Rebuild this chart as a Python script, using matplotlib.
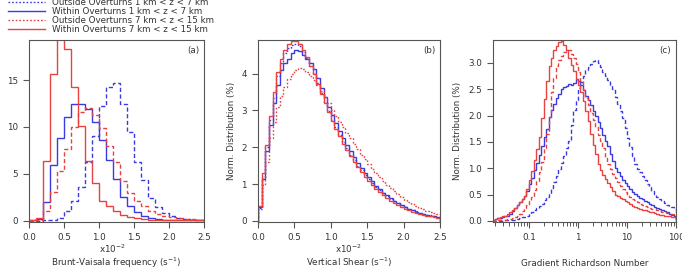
import numpy as np
import matplotlib
matplotlib.use('Agg')
import matplotlib.pyplot as plt
from matplotlib.lines import Line2D
from matplotlib.ticker import FormatStrFormatter, LogLocator, NullFormatter, FixedLocator

plt.rcParams['font.family'] = ['DejaVu Sans']
plt.rcParams['font.size'] = 6.3

# ---------------- data ----------------
# (a) Brunt-Vaisala frequency, bins of 0.1 x10^-2 s^-1 from 0 to 2.5
n_edges = np.linspace(0.0, 2.5, 26)
n_out_low = [0.0, 0.0, 0.05, 0.1, 0.3, 1.0, 2.05, 3.6, 6.3, 9.0, 12.2, 14.3, 14.7,
             12.5, 9.5, 6.3, 4.3, 2.4, 1.4, 0.8, 0.5, 0.3, 0.2, 0.1, 0.1]
n_in_low = [0.02, 0.2, 2.0, 5.9, 8.8, 11.1, 12.4, 12.4, 11.9, 10.5, 8.6, 6.5, 4.4,
            2.5, 1.6, 0.9, 0.5, 0.3, 0.2, 0.1, 0.08, 0.05, 0.03, 0.02, 0.01]
n_out_high = [0.0, 0.1, 1.0, 3.1, 5.3, 7.6, 10.0, 11.6, 12.0, 11.3, 9.9, 8.0, 6.2,
              4.2, 2.9, 2.1, 1.5, 1.0, 0.7, 0.5, 0.35, 0.25, 0.2, 0.15, 0.1]
n_in_high = [0.05, 0.3, 6.4, 15.7, 19.8, 18.3, 14.3, 10.1, 6.4, 4.0, 2.1, 1.5, 1.0,
             0.6, 0.35, 0.25, 0.15, 0.1, 0.08, 0.05, 0.04, 0.03, 0.02, 0.02, 0.01]

# (b) vertical shear, bins of 0.05 x10^-2 s^-1 from 0 to 2.5
s_edges = np.linspace(0.0, 2.5, 51)
s_out_low = [0.35, 1.2, 2.0, 2.75, 3.35, 3.95, 4.3, 4.55, 4.7, 4.78,
             4.8, 4.75, 4.6, 4.42, 4.2, 3.98, 3.74, 3.48, 3.22, 2.98,
             2.75, 2.54, 2.34, 2.15, 1.97, 1.8, 1.65, 1.5, 1.37, 1.25,
             1.13, 1.02, 0.92, 0.83, 0.75, 0.67, 0.6, 0.54, 0.48, 0.43,
             0.38, 0.33, 0.29, 0.26, 0.22, 0.19, 0.17, 0.15, 0.13, 0.11]
s_in_low = [0.38, 1.15, 1.9, 2.6, 3.2, 3.7, 4.1, 4.3, 4.4, 4.55,
            4.65, 4.62, 4.5, 4.4, 4.3, 4.12, 3.88, 3.62, 3.36, 3.1,
            2.87, 2.65, 2.45, 2.25, 2.06, 1.89, 1.73, 1.58, 1.44, 1.31,
            1.18, 1.07, 0.96, 0.86, 0.77, 0.69, 0.62, 0.55, 0.49, 0.43,
            0.38, 0.33, 0.29, 0.25, 0.22, 0.19, 0.16, 0.14, 0.12, 0.1]
s_out_high = [0.33, 0.98, 1.6, 2.25, 2.7, 3.1, 3.4, 3.65, 3.85, 4.0,
              4.1, 4.15, 4.12, 4.05, 3.95, 3.82, 3.68, 3.52, 3.36, 3.2,
              3.0, 2.85, 2.7, 2.55, 2.4, 2.25, 2.1, 1.95, 1.8, 1.67,
              1.54, 1.42, 1.3, 1.19, 1.08, 0.98, 0.89, 0.8, 0.72, 0.64,
              0.57, 0.5, 0.45, 0.4, 0.35, 0.31, 0.27, 0.24, 0.21, 0.18]
s_in_high = [0.4, 1.3, 2.05, 2.85, 3.5, 4.05, 4.4, 4.65, 4.8, 4.88,
             4.9, 4.82, 4.65, 4.45, 4.22, 3.98, 3.72, 3.46, 3.2, 2.95,
             2.72, 2.5, 2.3, 2.1, 1.92, 1.75, 1.6, 1.45, 1.32, 1.2,
             1.08, 0.97, 0.87, 0.78, 0.7, 0.62, 0.55, 0.49, 0.43, 0.38,
             0.33, 0.29, 0.25, 0.22, 0.19, 0.16, 0.14, 0.12, 0.1, 0.08]

# (c) gradient Richardson number, 20 log bins per decade from 10^-1.75 to 10^2
r_edges = 10 ** np.linspace(-1.75, 2.0, 76)
r_out_low = [0.0, 0.0, 0.0, 0.005, 0.005, 0.01, 0.01, 0.015, 0.02, 0.025,
             0.035, 0.05, 0.065, 0.08, 0.1, 0.13, 0.16, 0.2, 0.24, 0.28,
             0.33, 0.39, 0.45, 0.52, 0.62, 0.73, 0.85, 0.98, 1.1, 1.24,
             1.38, 1.52, 1.82, 2.1, 2.3, 2.52, 2.64, 2.76, 2.86, 2.93,
             2.99, 3.04, 3.05, 3.0, 2.92, 2.83, 2.76, 2.68, 2.59, 2.5,
             2.36, 2.22, 2.08, 1.95, 1.76, 1.57, 1.4, 1.24, 1.08, 0.99,
             0.92, 0.85, 0.78, 0.71, 0.64, 0.57, 0.51, 0.46, 0.42, 0.38,
             0.34, 0.31, 0.28, 0.26, 0.24]
r_in_low = [0.025, 0.035, 0.05, 0.06, 0.075, 0.09, 0.1, 0.14, 0.19, 0.25,
            0.3, 0.36, 0.42, 0.48, 0.56, 0.7, 0.82, 0.96, 1.1, 1.25,
            1.42, 1.6, 1.75, 1.97, 2.1, 2.22, 2.33, 2.42, 2.5, 2.54,
            2.57, 2.6, 2.58, 2.62, 2.7, 2.66, 2.58, 2.48, 2.38, 2.3,
            2.2, 2.08, 2.0, 1.88, 1.76, 1.64, 1.52, 1.42, 1.28, 1.14,
            1.0, 0.92, 0.85, 0.78, 0.72, 0.66, 0.6, 0.55, 0.51, 0.48,
            0.44, 0.41, 0.38, 0.35, 0.32, 0.3, 0.27, 0.25, 0.23, 0.2,
            0.18, 0.16, 0.14, 0.12, 0.1]
r_out_high = [0.0, 0.005, 0.01, 0.01, 0.015, 0.02, 0.03, 0.045, 0.06, 0.08,
              0.1, 0.14, 0.19, 0.24, 0.3, 0.38, 0.46, 0.58, 0.75, 0.92,
              1.12, 1.38, 1.65, 1.98, 2.45, 2.72, 2.94, 3.05, 3.13, 3.2,
              3.24, 3.25, 3.18, 3.1, 2.98, 2.82, 2.65, 2.48, 2.34, 2.2,
              2.05, 1.92, 1.78, 1.64, 1.52, 1.38, 1.22, 1.08, 0.98, 0.9,
              0.82, 0.74, 0.67, 0.6, 0.54, 0.5, 0.46, 0.42, 0.39, 0.36,
              0.33, 0.3, 0.28, 0.26, 0.25, 0.235, 0.22, 0.205, 0.19, 0.175,
              0.16, 0.15, 0.14, 0.13, 0.12]
r_in_high = [0.025, 0.04, 0.055, 0.07, 0.085, 0.1, 0.13, 0.17, 0.21, 0.25,
             0.3, 0.36, 0.42, 0.48, 0.6, 0.78, 0.95, 1.15, 1.36, 1.6,
             1.96, 2.32, 2.65, 2.95, 3.1, 3.25, 3.33, 3.4, 3.42, 3.35,
             3.24, 3.1, 2.96, 2.84, 2.7, 2.58, 2.45, 2.27, 2.09, 1.9,
             1.66, 1.45, 1.27, 1.09, 0.96, 0.88, 0.8, 0.72, 0.64, 0.56,
             0.5, 0.47, 0.44, 0.41, 0.38, 0.35, 0.32, 0.29, 0.26, 0.245,
             0.23, 0.21, 0.2, 0.185, 0.17, 0.16, 0.145, 0.13, 0.12, 0.11,
             0.1, 0.095, 0.085, 0.08, 0.07]

labels = ['Outside Overturns 1 km < z < 7 km',
          'Within Overturns 1 km < z < 7 km',
          'Outside Overturns 7 km < z < 15 km',
          'Within Overturns 7 km < z < 15 km']

blue = '#3a3ae0'
red = '#e8413f'
spine_col = '#555555'
text_col = '#333333'
dash = (0, (3, 1.8))
dot = (0, (1.2, 1.4))

fig = plt.figure(figsize=(6.82, 2.71), dpi=100)
ax_a = fig.add_axes([0.0425, 0.181, 0.2566, 0.672])
ax_b = fig.add_axes([0.3783, 0.181, 0.2669, 0.672])
ax_c = fig.add_axes([0.7229, 0.181, 0.2683, 0.672])


def draw(ax, edges, series, style):
    cols = [blue, blue, red, red]
    styles = [style, '-', style, '-']
    for vals, c, ls in zip(series, cols, styles):
        ax.stairs(vals, edges, color=c, lw=1.0, linestyle=ls, baseline=0)


def style_axes(ax):
    for s in ax.spines.values():
        s.set_color(spine_col)
        s.set_linewidth(0.8)
    ax.tick_params(which='major', direction='out', length=4.5, width=0.8,
                   color=spine_col, labelcolor=text_col, top=False, right=False)
    ax.tick_params(which='minor', direction='out', length=2.8, width=0.7,
                   color=spine_col, top=False, right=False)


draw(ax_a, n_edges, [n_out_low, n_in_low, n_out_high, n_in_high], dash)
ax_a.set_xlim(0, 2.5)
ax_a.set_ylim(-0.15, 19.3)
ax_a.set_yticks([0, 5, 10, 15])
ax_a.set_xticks([0, 0.5, 1.0, 1.5, 2.0, 2.5])
ax_a.xaxis.set_major_formatter(FormatStrFormatter('%.1f'))
ax_a.set_xlabel('Brunt-Vaisala frequency (s$^{-1}$)', labelpad=10, color=text_col)
ax_a.text(0.475, -0.145, 'x10$^{-2}$', transform=ax_a.transAxes,
          ha='center', va='center', color=text_col)
ax_a.text(0.975, 0.965, '(a)', transform=ax_a.transAxes, ha='right', va='top',
          color=text_col)
style_axes(ax_a)

draw(ax_b, s_edges, [s_out_low, s_in_low, s_out_high, s_in_high], dot)
ax_b.set_xlim(0, 2.5)
ax_b.set_ylim(-0.03, 4.92)
ax_b.set_yticks([0, 1, 2, 3, 4])
ax_b.set_xticks([0, 0.5, 1.0, 1.5, 2.0, 2.5])
ax_b.xaxis.set_major_formatter(FormatStrFormatter('%.1f'))
ax_b.set_xlabel('Vertical Shear (s$^{-1}$)', labelpad=10, color=text_col)
ax_b.set_ylabel('Norm. Distribution (%)', labelpad=4, color=text_col)
ax_b.text(0.495, -0.145, 'x10$^{-2}$', transform=ax_b.transAxes,
          ha='center', va='center', color=text_col)
ax_b.text(0.975, 0.965, '(b)', transform=ax_b.transAxes, ha='right', va='top',
          color=text_col)
style_axes(ax_b)

draw(ax_c, r_edges, [r_out_low, r_in_low, r_out_high, r_in_high], dash)
ax_c.set_xscale('log')
ax_c.set_xlim(0.0185, 100)
ax_c.set_ylim(-0.02, 3.44)
ax_c.set_yticks([0, 0.5, 1.0, 1.5, 2.0, 2.5, 3.0])
ax_c.yaxis.set_major_formatter(FormatStrFormatter('%.1f'))
ax_c.xaxis.set_major_locator(FixedLocator([0.1, 1, 10, 100]))
ax_c.set_xticklabels(['0.1', '1', '10', '100'])
ax_c.xaxis.set_minor_locator(LogLocator(base=10, subs=np.arange(2, 10), numticks=20))
ax_c.xaxis.set_minor_formatter(NullFormatter())
ax_c.set_xlabel('Gradient Richardson Number', labelpad=12, color=text_col)
ax_c.set_ylabel('Norm. Distribution (%)', labelpad=4, color=text_col)
ax_c.text(0.975, 0.965, '(c)', transform=ax_c.transAxes, ha='right', va='top',
          color=text_col)
style_axes(ax_c)

handles = [Line2D([], [], color=blue, lw=1.0, linestyle=dot),
           Line2D([], [], color=blue, lw=1.0),
           Line2D([], [], color=red, lw=1.0, linestyle=dot),
           Line2D([], [], color=red, lw=1.0)]
fig.legend(handles, labels, loc='upper left', bbox_to_anchor=(0.0117, 1.008),
           frameon=False, handlelength=4.2, handletextpad=0.8,
           labelspacing=0.02, borderpad=0, borderaxespad=0,
           labelcolor=text_col)

fig.savefig('out.png', dpi=100)
